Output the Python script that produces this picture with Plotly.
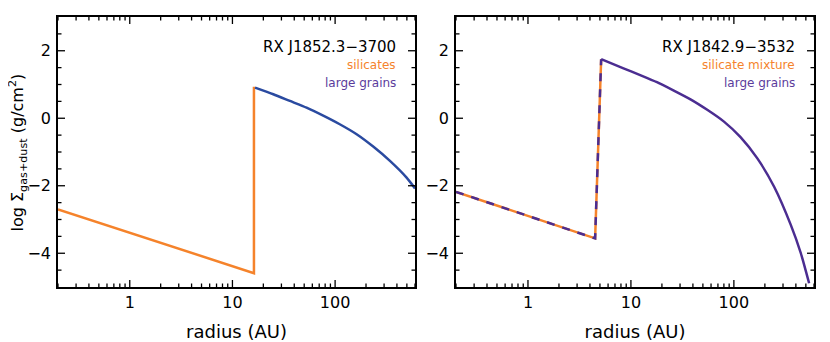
import plotly.graph_objects as go
import numpy as np

# ---- data ----
left_sil_r = [0.2, 16.2, 16.2]
left_sil_s = [-2.70, -4.59, 0.93]
left_lg_r = [16.6, 25.0, 36.3, 52.7, 76.6, 111, 162, 235, 342, 497, 600]
left_lg_s = [0.907, 0.711, 0.513, 0.314, 0.077, -0.178, -0.474, -0.84, -1.265, -1.76, -2.08]

right_sil_r = [0.2, 4.49, 5.14]
right_sil_s = [-2.18, -3.56, 1.75]
right_lg_r = [5.14, 8.47, 12.3, 17.9, 26.1, 37.9, 55.1, 80.1, 116, 169, 246, 357, 447, 538]
right_lg_s = [1.75, 1.48, 1.28, 1.07, 0.82, 0.56, 0.25, -0.10, -0.56, -1.19, -2.03, -3.16, -4.0, -4.89]

x_tickvals = [1, 10, 100]
x_ticktext = ["1", "10", "100"]
x_minor = [0.2, 0.3, 0.4, 0.5, 0.6, 0.7, 0.8, 0.9,
           2, 3, 4, 5, 6, 7, 8, 9,
           20, 30, 40, 50, 60, 70, 80, 90,
           200, 300, 400, 500, 600]
y_tickvals = [-4, -2, 0, 2]
y_minor = [-4.5, -3.5, -3, -2.5, -1.5, -1, -0.5, 0.5, 1, 1.5, 2.5]

ORANGE = "#F5832B"
BLUE = "#2A4AA0"
PURPLE = "#4B2D91"
LABEL_PURPLE = "#5B3C9C"
FONT = "DejaVu Sans"

# page body has a default 8px margin -> shift everything
OFF = 8
W, H = 830 - OFF, 342 - OFF
ml, mr, mt, mb = 58 - OFF, 16, 17 - OFF, 55
pw = W - ml - mr
ph = H - mt - mb

XMIN, XMAX = 0.2, 600
YR = [-5, 3]
XR = [np.log10(XMIN), np.log10(XMAX)]

lx1 = (415 - 58) / pw
rx0 = (456 - 58) / pw
DOMS = [(0.0, lx1), (rx0, 1.0)]

fig = go.Figure()
fig.add_trace(go.Scatter(x=left_sil_r, y=left_sil_s, mode="lines",
                         line=dict(color=ORANGE, width=2.5), xaxis="x", yaxis="y"))
fig.add_trace(go.Scatter(x=left_lg_r, y=left_lg_s, mode="lines",
                         line=dict(color=BLUE, width=2.5, shape="spline", smoothing=0.6),
                         xaxis="x", yaxis="y"))
fig.add_trace(go.Scatter(x=right_sil_r, y=right_sil_s, mode="lines",
                         line=dict(color=ORANGE, width=2.5), xaxis="x2", yaxis="y2"))
fig.add_trace(go.Scatter(x=right_sil_r, y=right_sil_s, mode="lines",
                         line=dict(color=PURPLE, width=2.5, dash="8px,8px"), xaxis="x2", yaxis="y2"))
fig.add_trace(go.Scatter(x=right_lg_r, y=right_lg_s, mode="lines",
                         line=dict(color=PURPLE, width=2.5, shape="spline", smoothing=0.6),
                         xaxis="x2", yaxis="y2"))

# inside tick marks on all four sides (IDL style), drawn as thin line traces
MAJ, MIN = 7, 3.5
for (d0, d1), xa, ya in ((DOMS[0], "x", "y"), (DOMS[1], "x2", "y2")):
    px_per_dec = (d1 - d0) * pw / (XR[1] - XR[0])
    px_per_y = ph / (YR[1] - YR[0])
    tx, ty = [], []
    for vals, ln in ((x_tickvals, MAJ), (x_minor, MIN)):
        dy = ln / px_per_y
        for v in vals:
            tx += [v, v, None, v, v, None]
            ty += [YR[0], YR[0] + dy, None, YR[1], YR[1] - dy, None]
    for vals, ln in ((y_tickvals, MAJ), (y_minor, MIN)):
        f = 10 ** (ln / px_per_dec)
        for v in vals:
            tx += [XMIN, XMIN * f, None, XMAX, XMAX / f, None]
            ty += [v, v, None, v, v, None]
    fig.add_trace(go.Scatter(x=tx, y=ty, mode="lines", line=dict(color="black", width=1.3),
                             xaxis=xa, yaxis=ya, hoverinfo="skip", connectgaps=False))

def xax(domain, anchor):
    return dict(type="log", range=XR, domain=domain, anchor=anchor, automargin=False,
                tickmode="array", tickvals=x_tickvals, ticktext=x_ticktext,
                ticks="", showline=True, linecolor="black", linewidth=1.5, mirror=True,
                showgrid=False, zeroline=False,
                tickfont=dict(family=FONT, size=16, color="black"),
                title=dict(text="radius (AU)", font=dict(family=FONT, size=18, color="black"),
                           standoff=15))

def yax(anchor):
    return dict(range=YR, tickmode="array", tickvals=y_tickvals, automargin=False,
                ticks="", showline=True, linecolor="black", linewidth=1.5, mirror=True,
                showgrid=False, zeroline=False, ticklabelstandoff=2,
                tickfont=dict(family=FONT, size=16, color="black"),
                anchor=anchor, domain=[0, 1])

fig.update_layout(
    width=W, height=H, margin=dict(l=ml, r=mr, t=mt, b=mb, autoexpand=False),
    paper_bgcolor="white", plot_bgcolor="white", showlegend=False,
    xaxis=xax(list(DOMS[0]), "y"),
    yaxis=yax("x"),
    xaxis2=xax(list(DOMS[1]), "y2"),
    yaxis2=yax("x2"),
)

def px_x(px):
    return (px - 58) / pw

def px_y(py):
    return (342 - 55 - py) / ph

ann = [
    dict(text="RX J1852.3\u22123700", x=px_x(397), y=px_y(47), font=dict(size=15, color="black")),
    dict(text="silicates", x=px_x(397), y=px_y(64.5), font=dict(size=12, color=ORANGE)),
    dict(text="large grains", x=px_x(397), y=px_y(82.5), font=dict(size=12, color=LABEL_PURPLE)),
    dict(text="RX J1842.9\u22123532", x=px_x(796), y=px_y(47), font=dict(size=15, color="black")),
    dict(text="silicate mixture", x=px_x(796), y=px_y(64.5), font=dict(size=12, color=ORANGE)),
    dict(text="large grains", x=px_x(796), y=px_y(82.5), font=dict(size=12, color=LABEL_PURPLE)),
]
for a in ann:
    a["font"]["family"] = FONT
    fig.add_annotation(xref="paper", yref="paper", xanchor="right", yanchor="middle",
                       showarrow=False, borderpad=0, **a)

fig.add_annotation(xref="paper", yref="paper", x=px_x(17.5), y=px_y(153),
                   xanchor="center", yanchor="middle", showarrow=False, textangle=-90,
                   borderpad=0,
                   text="log \u03a3<sub>gas+dust</sub> (g/cm<sup>2</sup>)",
                   font=dict(family=FONT, size=16, color="black"))

fig.write_html("out.html")
